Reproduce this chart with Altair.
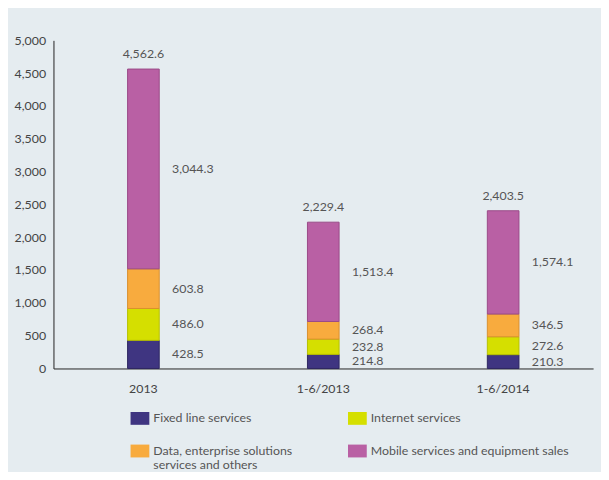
import altair as alt
import pandas as pd

periods = ["2013", "1-6/2013", "1-6/2014"]
segments = [
    "Fixed line services",
    "Internet services",
    "Data, enterprise solutions\nservices and others",
    "Mobile services and equipment sales",
]
fixed_line = [428.5, 214.8, 210.3]
internet = [486.0, 232.8, 272.6]
data_ent = [603.8, 268.4, 346.5]
mobile = [3044.3, 1513.4, 1574.1]
totals = [4562.6, 2229.4, 2403.5]
y_ticks = [0, 500, 1000, 1500, 2000, 2500, 3000, 3500, 4000, 4500, 5000]

colors = ["#3f3581", "#d5df00", "#f8ab3e", "#b960a4"]
strokes = ["#2e2660", "#b6c000", "#d9902f", "#9a4a88"]

series = [fixed_line, internet, data_ent, mobile]
rows = []
for si, (seg, vals) in enumerate(zip(segments, series)):
    for pi, p in enumerate(periods):
        rows.append({"period": p, "segment": seg, "order": si, "value": vals[pi]})
df = pd.DataFrame(rows)
tot_df = pd.DataFrame({"period": periods, "total": totals})

FONT = "Lato"
TXT = "#555555"
FS = 12.5

x_scale = alt.Scale(domain=periods, paddingInner=0, paddingOuter=0)
y_scale = alt.Scale(domain=[0, 5000], nice=False)


def x_axis():
    return alt.Axis(labelAngle=0, ticks=False, domainColor="#222222",
                    labelPadding=14, labelFontSize=FS, labelColor="#444444",
                    labelFont=FONT, title=None)


def y_axis():
    return alt.Axis(values=y_ticks, format=",.0f", ticks=False, title=None,
                    grid=False, domainColor="#222222", labelPadding=8,
                    labelFontSize=FS, labelColor="#444444", labelFont=FONT)


base = alt.Chart(df).transform_stack(
    stack="value", groupby=["period"], as_=["v0", "v1"],
    sort=[alt.SortField("order", order="ascending")]
)

bars = base.mark_bar(size=32, strokeWidth=1).encode(
    x=alt.X("period:N", sort=periods, title=None, scale=x_scale, axis=x_axis()),
    y=alt.Y("v0:Q", scale=y_scale, title=None, axis=y_axis()),
    y2="v1:Q",
    color=alt.Color("segment:N", sort=segments,
                    scale=alt.Scale(domain=segments, range=colors),
                    legend=alt.Legend(
                        title=None, orient="none", legendX=78, legendY=373,
                        direction="horizontal",
                        columns=2, columnPadding=56, rowPadding=17,
                        symbolType="M-1,-0.684H1V0.684H-1Z", symbolSize=361,
                        symbolStrokeWidth=0, symbolOpacity=1,
                        labelFontSize=FS, labelColor="#555555", labelFont=FONT,
                        labelExpr="split(datum.label, '\\n')",
                        labelOffset=4, labelLimit=300)),
    stroke=alt.Stroke("segment:N", sort=segments,
                      scale=alt.Scale(domain=segments, range=strokes), legend=None),
)

seg_text = base.transform_calculate(mid="(datum.v0 + datum.v1) / 2").mark_text(
    align="left", baseline="middle", dx=29, fontSize=FS, color=TXT, font=FONT
).encode(
    x=alt.X("period:N", sort=periods, title=None, scale=x_scale, axis=x_axis()),
    y=alt.Y("mid:Q", scale=y_scale, title=None, axis=y_axis()),
    text=alt.Text("value:Q", format=",.1f"),
)

tot_text = alt.Chart(tot_df).mark_text(
    align="center", baseline="middle", dy=-15, fontSize=FS, color=TXT, font=FONT
).encode(
    x=alt.X("period:N", sort=periods, title=None, scale=x_scale, axis=x_axis()),
    y=alt.Y("total:Q", scale=y_scale, title=None, axis=y_axis()),
    text=alt.Text("total:Q", format=",.1f"),
)

chart = alt.layer(bars, seg_text, tot_text).properties(
    width=546, height=332,
    autosize=alt.AutoSizeParams(type="none"),
    padding={"left": 46, "top": 30, "right": 8, "bottom": 102},
    background="#e5ecf0",
).configure_view(stroke=None)

chart.save("out.html", embed_options={"renderer": "svg", "actions": False})
